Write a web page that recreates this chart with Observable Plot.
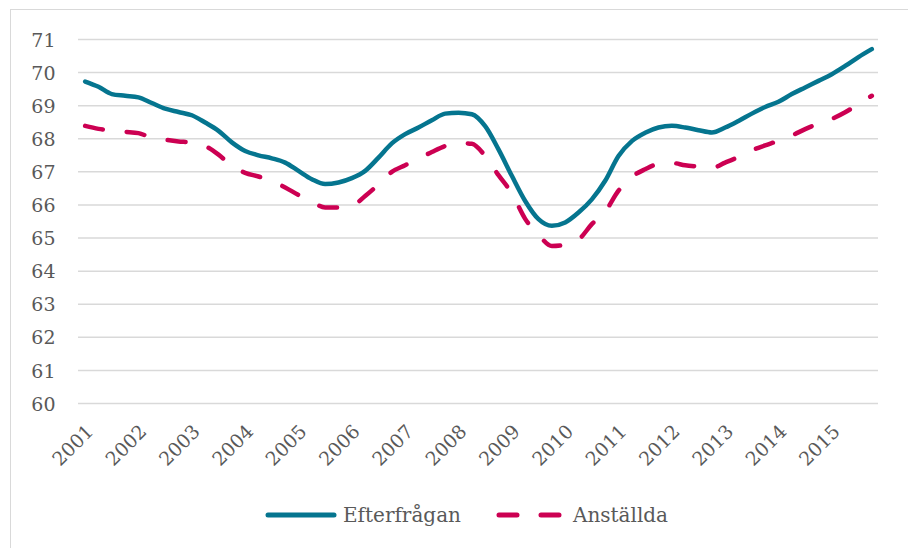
<!DOCTYPE html>
<html>
<head>
<meta charset="utf-8">
<script src="https://cdn.jsdelivr.net/npm/d3@7"></script>
<script src="https://cdn.jsdelivr.net/npm/@observablehq/plot@0.6"></script>
<style>
  html, body { margin: 0; padding: 0; background: #fff; overflow: hidden; }
  body { width: 908px; height: 548px; position: relative; font-family: "DejaVu Serif", serif; }
  #frame { position: absolute; left: 10px; top: 9px; width: 1000px; height: 1000px; border: 1.5px solid #d9d9d9; }
  #chart { position: absolute; left: 0; top: 0; }
  #legend { position: absolute; left: 265px; top: 503px; display: flex; align-items: center; font-size: 20px; color: #595959; }
  #legend .item { display: flex; align-items: center; }
  #legend svg { display: block; }
</style>
</head>
<body>
<div id="frame"></div>
<div id="chart"></div>
<div id="legend"></div>
<script>
const years = [2001, 2002, 2003, 2004, 2005, 2006, 2007, 2008, 2009, 2010, 2011, 2012, 2013, 2014, 2015];
const seriesNames = ["Efterfrågan", "Anställda"];
const seriesColors = ["#05758f", "#cc0052"];
const yTicks = [60, 61, 62, 63, 64, 65, 66, 67, 68, 69, 70, 71];

// Quarterly values, 2001 Q1 .. 2015 Q4
const efterfragan = [
  69.73, 69.57, 69.35, 69.30, 69.25, 69.08, 68.91, 68.81, 68.71, 68.49,
  68.24, 67.89, 67.63, 67.50, 67.41, 67.28, 67.03, 66.78, 66.63, 66.68,
  66.81, 67.03, 67.43, 67.86, 68.14, 68.34, 68.56, 68.76, 68.79, 68.74,
  68.38, 67.68, 66.88, 66.12, 65.57, 65.37, 65.47, 65.77, 66.17, 66.73,
  67.48, 67.93, 68.18, 68.34, 68.39, 68.34, 68.26, 68.19, 68.34, 68.54,
  68.76, 68.96, 69.12, 69.35, 69.55, 69.75, 69.95, 70.20, 70.47, 70.71
];
const anstallda = [
  68.39, 68.30, 68.25, 68.21, 68.17, 68.03, 67.97, 67.92, 67.88, 67.78,
  67.52, 67.18, 66.97, 66.86, 66.72, 66.53, 66.30, 66.10, 65.92, 65.92,
  65.97, 66.27, 66.62, 67.00, 67.20, 67.40, 67.60, 67.78, 67.87, 67.85,
  67.48, 66.90, 66.35, 65.58, 65.10, 64.76, 64.80, 64.95, 65.42, 65.80,
  66.43, 66.85, 67.08, 67.24, 67.27, 67.20, 67.16, 67.12, 67.28, 67.45,
  67.65, 67.80, 67.94, 68.10, 68.29, 68.46, 68.60, 68.80, 69.05, 69.30
];

const quarters = years.flatMap(y => [1, 2, 3, 4].map(q => ({year: y, q})));
const rows = [];
quarters.forEach((d, i) => {
  rows.push({i, series: seriesNames[0], value: efterfragan[i]});
  rows.push({i, series: seriesNames[1], value: anstallda[i]});
});
const yearTickIdx = years.map((y, k) => k * 4);

const chart = Plot.plot({
  width: 908,
  height: 548,
  marginLeft: 78,
  marginRight: 30,
  marginTop: 39,
  marginBottom: 145,
  style: {fontFamily: "DejaVu Serif, serif", fontSize: "19px", color: "#595959", background: "transparent", overflow: "visible"},
  x: {type: "linear", domain: [-0.5, quarters.length - 0.5]},
  y: {domain: [60, 71]},
  marks: [
    Plot.gridY(yTicks, {stroke: "#d9d9d9", strokeOpacity: 1, strokeWidth: 1.5}),
    Plot.axisY({ticks: yTicks, tickSize: 0, tickPadding: 23, label: null, fill: "#595959", fontSize: 19, dy: 1}),
    Plot.axisX({ticks: yearTickIdx, tickFormat: i => String(years[i / 4]), tickRotate: -45, tickSize: 0, tickPadding: 0, label: null, fill: "#595959", fontSize: 19, dx: 5, dy: 25}),
    Plot.line(rows.filter(d => d.series === seriesNames[0]), {x: "i", y: "value", stroke: seriesColors[0], strokeWidth: 4.5, curve: "monotone-x", strokeLinecap: "round", strokeLinejoin: "round"}),
    Plot.line(rows.filter(d => d.series === seriesNames[1]), {x: "i", y: "value", stroke: seriesColors[1], strokeWidth: 4.5, curve: "monotone-x", strokeLinecap: "round", strokeLinejoin: "round", strokeDasharray: "18,24"})
  ]
});
document.getElementById("chart").appendChild(chart);

// Legend
const legend = document.getElementById("legend");
function swatch(color, dashed, w) {
  const ns = "http://www.w3.org/2000/svg";
  const s = document.createElementNS(ns, "svg");
  s.setAttribute("width", w); s.setAttribute("height", 12);
  const l = document.createElementNS(ns, "line");
  l.setAttribute("x1", 3); l.setAttribute("x2", w - 3);
  l.setAttribute("y1", 6); l.setAttribute("y2", 6);
  l.setAttribute("stroke", color); l.setAttribute("stroke-width", 5);
  l.setAttribute("stroke-linecap", "round");
  if (dashed) l.setAttribute("stroke-dasharray", "18,24");
  s.appendChild(l);
  return s;
}
seriesNames.forEach((name, k) => {
  const item = document.createElement("div");
  item.className = "item";
  item.style.marginRight = k === 0 ? "35px" : "0";
  item.appendChild(swatch(seriesColors[k], k === 1, k === 0 ? 72 : 66));
  const t = document.createElement("span");
  t.textContent = name;
  t.style.marginLeft = k === 0 ? "6px" : "11px";
  item.appendChild(t);
  legend.appendChild(item);
});
</script>
</body>
</html>
